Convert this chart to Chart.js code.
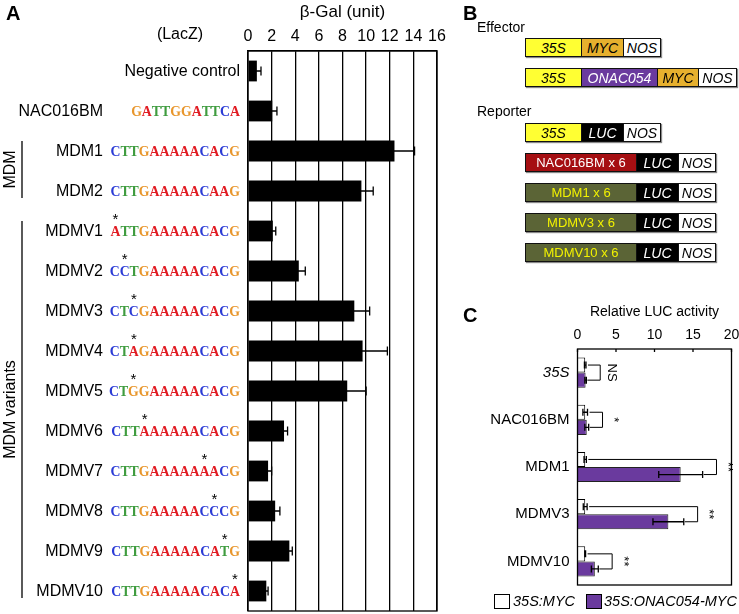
<!DOCTYPE html>
<html>
<head>
<meta charset="utf-8">
<script src="https://cdn.jsdelivr.net/npm/chart.js@4.4.1/dist/chart.umd.min.js"></script>
<style>
  body { margin: 0; background: #fff; font-family: "Liberation Sans", Arial, sans-serif; color: #000; }
  #page { position: relative; width: 739px; height: 614px; overflow: hidden; }
  canvas { position: absolute; }
  .panel { position: absolute; font-weight: bold; font-size: 20px; line-height: 20px; }
  .note { position: absolute; font-size: 14px; line-height: 16px; }
  .cons { position: absolute; display: flex; height: 17px; border: 1.5px solid #111; box-shadow: 1px 1px 1px #888; }
  .seg { height: 17px; display: flex; align-items: center; justify-content: center; font-size: 14px; font-style: italic; border-right: 1.5px solid #111; box-sizing: border-box; white-space: nowrap; }
  .seg:last-child { border-right: none; }
  .y { background: #ffff33; }
  .o { background: #e6b02e; }
  .w { background: #fff; }
  .p { background: #6a3a9e; color: #fff; }
  .k { background: #000; color: #fff; }
  .r { background: #a50f12; color: #fff; font-style: normal; font-size: 13px; }
  .g { background: #5b6436; color: #f2f200; font-style: normal; font-size: 13px; }
  .key { position: absolute; width: 14px; height: 13px; border: 1px solid #000; }
  .keytxt { position: absolute; font-style: italic; font-size: 14.5px; line-height: 16px; }
</style>
</head>
<body>
<div id="page">
  <canvas id="lacZChart" width="470" height="614" style="left:0;top:0"></canvas>
  <canvas id="lucChart" width="269" height="295" style="left:470px;top:300px"></canvas>

  <div class="panel" style="left:6px;top:3px">A</div>
  <div class="panel" style="left:463px;top:3px">B</div>
  <div class="panel" style="left:463px;top:305px">C</div>

  <div class="note" style="left:477px;top:19px">Effector</div>
  <div class="note" style="left:477px;top:103px">Reporter</div>

  <div class="cons" style="left:525px;top:38px">
    <div class="seg y" style="width:56px">35S</div><div class="seg o" style="width:42px">MYC</div><div class="seg w" style="width:36px">NOS</div>
  </div>
  <div class="cons" style="left:525px;top:68px">
    <div class="seg y" style="width:56px">35S</div><div class="seg p" style="width:76px">ONAC054</div><div class="seg o" style="width:41px">MYC</div><div class="seg w" style="width:37px">NOS</div>
  </div>
  <div class="cons" style="left:525px;top:123px">
    <div class="seg y" style="width:56px">35S</div><div class="seg k" style="width:42px">LUC</div><div class="seg w" style="width:36px">NOS</div>
  </div>
  <div class="cons" style="left:525px;top:153px">
    <div class="seg r" style="width:111px">NAC016BM x 6</div><div class="seg k" style="width:42px">LUC</div><div class="seg w" style="width:36px">NOS</div>
  </div>
  <div class="cons" style="left:525px;top:183px">
    <div class="seg g" style="width:111px">MDM1 x 6</div><div class="seg k" style="width:42px">LUC</div><div class="seg w" style="width:36px">NOS</div>
  </div>
  <div class="cons" style="left:525px;top:213px">
    <div class="seg g" style="width:111px">MDMV3 x 6</div><div class="seg k" style="width:42px">LUC</div><div class="seg w" style="width:36px">NOS</div>
  </div>
  <div class="cons" style="left:525px;top:243px">
    <div class="seg g" style="width:111px">MDMV10 x 6</div><div class="seg k" style="width:42px">LUC</div><div class="seg w" style="width:36px">NOS</div>
  </div>

  <div class="key" style="left:494px;top:594px;background:#fff"></div>
  <div class="keytxt" style="left:513px;top:593px">35S:MYC</div>
  <div class="key" style="left:586px;top:594px;background:#6a3a9e"></div>
  <div class="keytxt" style="left:604px;top:593px">35S:ONAC054-MYC</div>
</div>

<script>
// panel A - yeast one-hybrid (LacZ)
const lacZLabels = ['Negative control', 'NAC016BM', 'MDM1', 'MDM2', 'MDMV1', 'MDMV2', 'MDMV3',
    'MDMV4', 'MDMV5', 'MDMV6', 'MDMV7', 'MDMV8', 'MDMV9', 'MDMV10'];
const lacZSeqs = ['', 'GATTGGATTCA', 'CTTGAAAAACACG', 'CTTGAAAAACAAG', 'ATTGAAAAACACG', 'CCTGAAAAACACG',
    'CTCGAAAAACACG', 'CTAGAAAAACACG', 'CTGGAAAAACACG', 'CTTAAAAAACACG', 'CTTGAAAAAAACG',
    'CTTGAAAAACCCG', 'CTTGAAAAACATG', 'CTTGAAAAACACA'];
const lacZMutations = [-1, -1, -1, -1, 0, 1, 2, 2, 2, 3, 9, 10, 11, 12];
const galValues = [0.75, 2.05, 12.4, 9.6, 2.1, 4.3, 9.0, 9.7, 8.4, 3.05, 1.7, 2.3, 3.5, 1.55];
const galErrors = [0.35, 0.4, 1.7, 1.0, 0.25, 0.55, 1.3, 2.1, 1.6, 0.3, 0.3, 0.4, 0.25, 0.15];
const groupNames = ['MDM', 'MDM variants'];
const groupFirst = [2, 4];
const groupLast = [3, 13];

// panel C - relative LUC activity
const lucCategories = ['35S', 'NAC016BM', 'MDM1', 'MDMV3', 'MDMV10'];
const mycValues = [1.0, 1.0, 1.0, 1.0, 1.0];
const mycErrors = [0.1, 0.3, 0.15, 0.25, 0.05];
const onacValues = [1.05, 1.2, 13.4, 11.8, 2.25];
const onacErrors = [0.1, 0.25, 2.85, 2.0, 0.45];
const sigLabels = ['NS', '*', '**', '**', '**'];

const SANS = '"Liberation Sans", Arial, sans-serif';
const SERIF = '"Liberation Serif", "Times New Roman", serif';
const baseColors = { A: '#e11b22', C: '#2b3bd6', G: '#e8962c', T: '#3f9c3f' };

function drawErrorBar(ctx, xs, value, err, y, cap) {
    const x1 = xs.getPixelForValue(value - err);
    const x2 = xs.getPixelForValue(value + err);
    ctx.beginPath();
    ctx.moveTo(x1, y); ctx.lineTo(x2, y);
    ctx.moveTo(x1, y - cap); ctx.lineTo(x1, y + cap);
    ctx.moveTo(x2, y - cap); ctx.lineTo(x2, y + cap);
    ctx.stroke();
}

// pas de marge automatique autour des axes : la zone du graphique reste fixe
function noPadding(s) {
    s.paddingLeft = 0; s.paddingRight = 0; s.paddingTop = 0; s.paddingBottom = 0;
}

// dessin des noms, sequences, barres d'erreur
const lacZDecor = {
    id: 'lacZDecor',
    afterDatasetsDraw(chart) {
        const ctx = chart.ctx, xs = chart.scales.x, ys = chart.scales.y, area = chart.chartArea;
        ctx.save();
        ctx.strokeStyle = '#000';
        ctx.lineWidth = 1.3;
        galValues.forEach((v, i) => drawErrorBar(ctx, xs, v, galErrors[i], ys.getPixelForValue(i), 4.5));
        ctx.strokeRect(area.left, area.top, area.right - area.left, area.bottom - area.top);

        ctx.fillStyle = '#000';
        ctx.textBaseline = 'middle';
        ctx.font = '16px ' + SANS;
        ctx.textAlign = 'center';
        ctx.fillText('(LacZ)', 180, 35);

        lacZLabels.forEach((name, i) => {
            const y = ys.getPixelForValue(i);
            const seq = lacZSeqs[i];
            ctx.font = '16px ' + SANS;
            ctx.fillStyle = '#000';
            ctx.textAlign = 'right';
            ctx.fillText(name, seq ? 103 : 240, y + 1);
            if (!seq) return;
            ctx.font = 'bold 13.8px ' + SERIF;
            ctx.textAlign = 'left';
            const widths = seq.split('').map(ch => ctx.measureText(ch).width);
            let x = 240 - widths.reduce((a, b) => a + b, 0);
            seq.split('').forEach((ch, k) => {
                ctx.fillStyle = baseColors[ch];
                ctx.fillText(ch, x, y + 1);
                if (k === lacZMutations[i]) {
                    ctx.save();
                    ctx.fillStyle = '#000';
                    ctx.font = '15px ' + SANS;
                    ctx.textAlign = 'center';
                    ctx.fillText('*', x + widths[k] / 2, y - 11);
                    ctx.restore();
                }
                x += widths[k];
            });
        });

        // groupes MDM / MDM variants
        ctx.strokeStyle = '#000';
        ctx.lineWidth = 1.3;
        groupNames.forEach((g, n) => {
            const y1 = ys.getPixelForValue(groupFirst[n]) - 10;
            const y2 = ys.getPixelForValue(groupLast[n]) + 7;
            ctx.beginPath(); ctx.moveTo(22, y1); ctx.lineTo(22, y2); ctx.stroke();
            ctx.save();
            ctx.translate(11, (y1 + y2) / 2);
            ctx.rotate(-Math.PI / 2);
            ctx.font = '16px ' + SANS;
            ctx.fillStyle = '#000';
            ctx.textAlign = 'center';
            ctx.fillText(g, 0, 0);
            ctx.restore();
        });
        ctx.restore();
    }
};

new Chart(document.getElementById('lacZChart'), {
    type: 'bar',
    data: {
        labels: lacZLabels,
        datasets: [{
            data: galValues,
            backgroundColor: '#000',
            barPercentage: 0.52,
            categoryPercentage: 1
        }]
    },
    options: {
        indexAxis: 'y',
        responsive: false,
        animation: false,
        layout: { padding: { left: 0, right: 33, top: 0, bottom: 3 } },
        plugins: { legend: { display: false }, tooltip: { enabled: false } },
        scales: {
            x: {
                position: 'top',
                min: 0,
                max: 16,
                ticks: { stepSize: 2, autoSkip: false, maxRotation: 0, minRotation: 0, color: '#000', font: { family: SANS, size: 16 }, padding: 5 },
                grid: { color: '#000', lineWidth: 1.3, drawTicks: false },
                border: { color: '#000', width: 1.3 },
                title: { display: true, text: 'β-Gal (unit)', color: '#000', font: { family: SANS, size: 17 }, padding: { top: 2, bottom: 0 } },
                afterFit: s => { s.height = 51; noPadding(s); }
            },
            y: {
                ticks: { display: false },
                grid: { display: false, drawTicks: false },
                border: { display: false },
                afterFit: s => { s.width = 248; noPadding(s); }
            }
        }
    },
    plugins: [lacZDecor]
});

const lucDecor = {
    id: 'lucDecor',
    afterDatasetsDraw(chart) {
        const ctx = chart.ctx, xs = chart.scales.x, area = chart.chartArea;
        const mW = chart.getDatasetMeta(0), mP = chart.getDatasetMeta(1);
        ctx.save();
        ctx.strokeStyle = '#000';
        ctx.fillStyle = '#000';
        ctx.lineWidth = 1.3;
        lucCategories.forEach((c, i) => {
            const yW = mW.data[i].y, yP = mP.data[i].y;
            drawErrorBar(ctx, xs, mycValues[i], mycErrors[i], yW, 3.5);
            drawErrorBar(ctx, xs, onacValues[i], onacErrors[i], yP, 3.5);
            const endW = mycValues[i] + mycErrors[i], endP = onacValues[i] + onacErrors[i];
            const xb = xs.getPixelForValue(Math.max(endW, endP) + 1.8);
            ctx.lineWidth = 1;
            ctx.beginPath();
            ctx.moveTo(xs.getPixelForValue(endW) + 2, yW);
            ctx.lineTo(xb, yW); ctx.lineTo(xb, yP);
            ctx.lineTo(xs.getPixelForValue(endP) + 1, yP);
            ctx.stroke();
            ctx.lineWidth = 1.3;
            ctx.save();
            ctx.translate(xb + 11, (yW + yP) / 2);
            ctx.rotate(Math.PI / 2);
            ctx.font = '13px ' + SANS;
            ctx.textAlign = 'center';
            ctx.textBaseline = 'middle';
            ctx.fillText(sigLabels[i], 0, 0);
            ctx.restore();
        });
        ctx.lineWidth = 1.3;
        ctx.strokeRect(area.left, area.top, area.right - area.left, area.bottom - area.top);
        xs.ticks.forEach(t => {
            const x = xs.getPixelForValue(t.value);
            ctx.beginPath(); ctx.moveTo(x, area.top); ctx.lineTo(x, area.top + 3); ctx.stroke();
        });
        ctx.restore();
    }
};

new Chart(document.getElementById('lucChart'), {
    type: 'bar',
    data: {
        labels: lucCategories,
        datasets: [
            { label: '35S:MYC', data: mycValues, backgroundColor: '#fff', borderColor: '#000', borderWidth: 1, categoryPercentage: 0.64, barPercentage: 1 },
            { label: '35S:ONAC054-MYC', data: onacValues, backgroundColor: '#6a3a9e', borderColor: '#222', borderWidth: 1, categoryPercentage: 0.64, barPercentage: 1 }
        ]
    },
    options: {
        indexAxis: 'y',
        responsive: false,
        animation: false,
        layout: { padding: { left: 0, right: 7.5, top: 0, bottom: 10 } },
        plugins: { legend: { display: false }, tooltip: { enabled: false } },
        scales: {
            x: {
                position: 'top',
                min: 0,
                max: 20,
                ticks: { stepSize: 5, autoSkip: false, maxRotation: 0, minRotation: 0, color: '#000', font: { family: SANS, size: 14 }, padding: 5 },
                grid: { display: false, drawTicks: false },
                border: { display: false },
                title: { display: true, text: 'Relative LUC activity', color: '#000', font: { family: SANS, size: 14 }, padding: { top: 4, bottom: 0 } },
                afterFit: s => { s.height = 49; noPadding(s); }
            },
            y: {
                ticks: {
                    color: '#000',
                    padding: 8,
                    font: ctx => ({ family: SANS, size: 15, style: ctx.index === 0 ? 'italic' : 'normal' })
                },
                grid: { display: false, drawTicks: false },
                border: { display: false },
                afterFit: s => { s.width = 107.5; noPadding(s); }
            }
        }
    },
    plugins: [lucDecor]
});
</script>
</body>
</html>
